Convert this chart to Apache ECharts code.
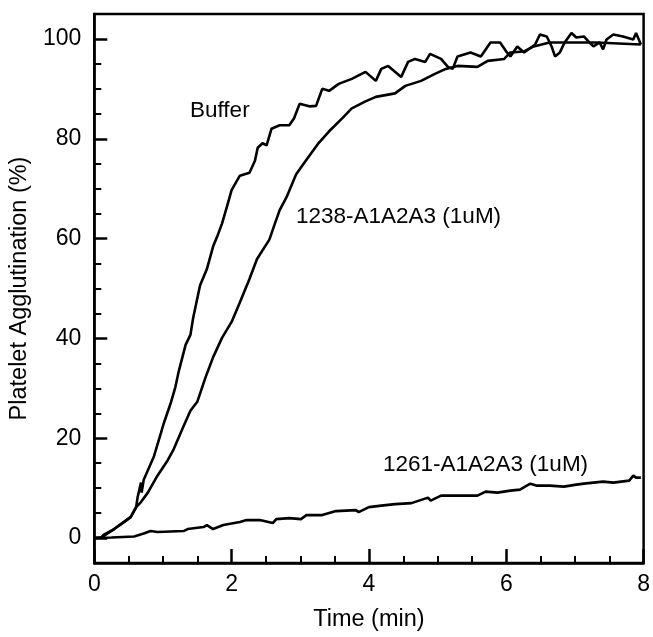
<!DOCTYPE html>
<html>
<head>
<meta charset="utf-8">
<script src="https://cdn.jsdelivr.net/npm/echarts@6/dist/echarts.min.js"></script>
<style>html,body{margin:0;padding:0;background:#fff}#c{width:653px;height:637px}</style>
</head>
<body>
<div id="c"></div>
<script>
// ---- data (time in min, agglutination in %) ----
var bufferTime = [0,0.10,0.14,0.29,0.43,0.53,0.61,0.63,0.68,0.69,0.72,0.87,0.97,1.01,1.11,1.18,1.23,1.33,1.40,1.44,1.54,1.64,1.73,1.79,1.86,1.93,2.00,2.12,2.26,2.34,2.38,2.45,2.51,2.58,2.70,2.84,2.91,2.99,3.13,3.23,3.32,3.42,3.56,3.75,3.95,4.10,4.18,4.28,4.47,4.57,4.67,4.82,4.89,5.05,5.15,5.22,5.29,5.48,5.63,5.77,5.91,6.01,6.06,6.16,6.26,6.42,6.49,6.59,6.66,6.71,6.78,6.85,6.95,7.02,7.13,7.21,7.27,7.36,7.41,7.46,7.56,7.70,7.85,7.89,7.93,7.96];
var bufferValue = [0,0.1,0.7,1.8,3.2,4.2,6.2,8.1,11.1,9.1,11.7,16.4,21.0,22.9,26.9,30.2,33.4,38.7,40.7,44.1,50.6,53.9,58.4,60.4,63.0,66.3,69.7,72.6,73.2,75.6,78.2,79.1,78.7,82.0,82.7,82.7,84.1,87.0,86.5,86.6,90.0,89.6,91.0,92.0,93.4,91.6,94.0,94.6,92.4,95.4,96.0,95.4,97.0,96.0,94.4,94.0,96.5,97.3,96.5,99.3,99.3,97.3,96.5,98.5,97.3,98.9,100.9,100.5,98.5,96.5,97.3,99.3,101.2,100.3,100.5,99.3,98.5,99.3,97.9,99.9,100.9,100.5,99.9,101.2,99.9,98.9];

var c1238Time = [0,0.10,0.29,0.43,0.53,0.61,0.68,0.78,0.92,1.07,1.15,1.30,1.40,1.50,1.62,1.73,1.86,2.00,2.12,2.26,2.37,2.55,2.63,2.70,2.80,2.94,3.09,3.27,3.42,3.61,3.75,3.95,4.10,4.38,4.53,4.76,4.96,5.12,5.29,5.58,5.73,5.97,6.06,6.26,6.40,6.63,7.31,7.96];
var c1238Value = [0,0.1,1.8,3.2,4.2,6.2,7.2,9.1,12.5,15.6,17.6,22.4,25.5,27.3,32.2,36.2,40.1,43.3,47.2,51.9,55.9,59.8,63.0,65.7,68.3,72.9,75.8,79.2,81.5,84.1,86.1,87.5,88.4,89.1,90.6,91.6,93.0,94.0,94.6,94.4,95.6,96.0,97.3,97.5,98.5,99.3,99.3,98.9];

var c1261Time = [0,0.25,0.58,0.72,0.82,0.92,1.30,1.36,1.59,1.64,1.73,1.88,2.12,2.22,2.41,2.60,2.65,2.84,3.01,3.09,3.32,3.52,3.81,3.85,4.00,4.18,4.38,4.62,4.86,4.90,5.05,5.29,5.58,5.70,5.87,6.06,6.20,6.35,6.45,6.63,6.84,7.02,7.13,7.41,7.56,7.79,7.85,7.89,7.96];
var c1261Value = [0,0.1,0.3,0.9,1.4,1.2,1.4,1.8,2.2,2.6,1.8,2.6,3.2,3.6,3.6,3.0,3.8,4.0,3.8,4.6,4.6,5.4,5.6,5.2,6.2,6.5,6.8,7.0,8.1,7.5,8.5,8.5,8.5,9.3,9.1,9.5,9.7,10.9,10.5,10.5,10.3,10.7,10.9,11.3,11.1,11.5,12.5,12.1,12.1];

var yMajorTicks = [0,20,40,60,80,100];
var yMinorTicks = [5,10,15,25,30,35,45,50,55,65,70,75,85,90,95];

var labels = [
  {text: 'Buffer', x: 190, y: 111},
  {text: '1238-A1A2A3 (1uM)', x: 296, y: 217},
  {text: '1261-A1A2A3 (1uM)', x: 383, y: 465}
];

function pairs(xs, ys){ return xs.map(function(x,i){ return [x, ys[i]]; }); }

var FONT = 'Liberation Sans';
var chart = echarts.init(document.getElementById('c'), null, {renderer: 'canvas'});
var lineStyle = {color: '#000', width: 2.6};
chart.setOption({
  animation: false,
  backgroundColor: '#fff',
  grid: {left: 93, right: 5, top: 14, bottom: 66, show: true, borderColor: '#000', borderWidth: 2.5, backgroundColor: 'transparent'},
  xAxis: {
    type: 'value', min: 0, max: 8, interval: 2,
    name: 'Time (min)', nameLocation: 'middle', nameGap: 45,
    nameTextStyle: {color: '#000', fontSize: 23.5, fontFamily: FONT},
    axisLine: {onZero: false, lineStyle: {color: '#000', width: 2.5}},
    axisTick: {inside: true, length: 14, lineStyle: {color: '#000', width: 2.5}},
    minorTick: {show: true, splitNumber: 4, length: 7, lineStyle: {color: '#000', width: 2}},
    axisLabel: {color: '#000', fontSize: 23, fontFamily: FONT, margin: 10},
    splitLine: {show: false}, minorSplitLine: {show: false}
  },
  yAxis: [{
    type: 'value', min: -5, max: 105, position: 'left',
    name: 'Platelet Agglutination (%)', nameLocation: 'middle', nameGap: 56, nameRotate: 90,
    nameTextStyle: {color: '#000', fontSize: 23.5, fontFamily: FONT},
    axisLine: {onZero: false, lineStyle: {color: '#000', width: 2.5}},
    axisTick: {inside: true, length: 13, customValues: yMajorTicks, lineStyle: {color: '#000', width: 2.5}},
    axisLabel: {color: '#000', fontSize: 23, fontFamily: FONT, margin: 13, customValues: yMajorTicks},
    splitLine: {show: false}
  }, {
    type: 'value', min: -5, max: 105, position: 'left', offset: 0,
    axisLine: {show: false, onZero: false},
    axisTick: {inside: true, length: 7, customValues: yMinorTicks, lineStyle: {color: '#000', width: 2}},
    axisLabel: {show: false, customValues: yMinorTicks},
    splitLine: {show: false}
  }],
  series: [
    {type: 'line', data: pairs(bufferTime, bufferValue), showSymbol: false, lineStyle: lineStyle, itemStyle: {color: '#000'}},
    {type: 'line', data: pairs(c1238Time, c1238Value), showSymbol: false, lineStyle: lineStyle, itemStyle: {color: '#000'}},
    {type: 'line', data: pairs(c1261Time, c1261Value), showSymbol: false, lineStyle: lineStyle, itemStyle: {color: '#000'}}
  ],
  graphic: labels.map(function(l){
    return {type: 'text', left: l.x, top: l.y - 12, style: {text: l.text, fill: '#000', fontSize: 22.5, fontFamily: FONT}};
  })
});
</script>
</body>
</html>
